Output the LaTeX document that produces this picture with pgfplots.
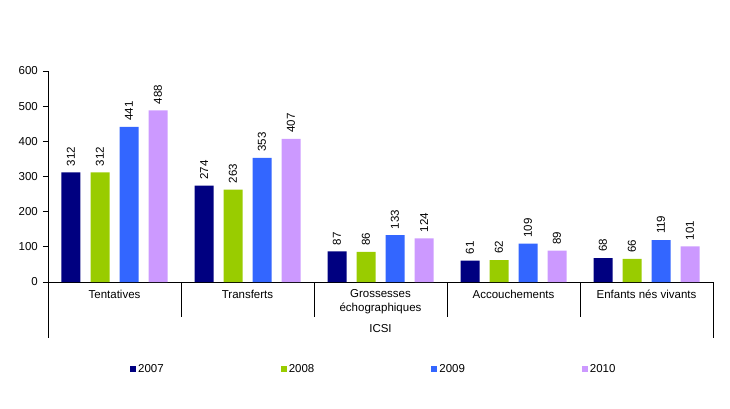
\documentclass[border=0pt]{standalone}
\usepackage{pgfplots}
\pgfplotsset{compat=1.18}
\usepackage{fontspec}
\setmainfont{Liberation Sans}
\definecolor{c2007}{HTML}{000080}
\definecolor{c2008}{HTML}{99CC00}
\definecolor{c2009}{HTML}{3366FF}
\definecolor{c2010}{HTML}{CC99FF}
\newcommand{\chartfont}{\fontsize{11.5bp}{13.5bp}\selectfont}
\begin{document}
\chartfont
\begin{tikzpicture}
\path (0bp,0bp) rectangle (730bp,409bp);
\begin{axis}[
    at={(48bp,127bp)}, anchor=south west,
    scale only axis, width=665bp, height=211bp,
    ybar=10bp, bar width=19bp,
    xmin=-0.5, xmax=4.5, ymin=0, ymax=600,
    ytick={0,100,...,600},
    xtick={0,1,2,3,4},
    xticklabels={Tentatives, Transferts, {Grossesses\\échographiques}, Accouchements, Enfants nés vivants},
    axis x line*=bottom, axis y line*=left,
    axis line style={-, black, line width=0.9bp},
    x tick style={draw=none},
    y tick style={black, line width=0.9bp},
    tick align=outside, major tick length=5bp,
    /pgf/number format/assume math mode=true,
    ticklabel style={font=\chartfont},
    xticklabel style={align=center, inner sep=0pt, yshift=-2.5bp},
    yticklabel style={inner sep=0pt, xshift=-5bp},
    clip=false,
    nodes near coords,
    every node near coord/.append style={rotate=90, anchor=west, inner xsep=6bp, inner ysep=0pt,
        font=\chartfont, black},
    legend columns=4,
    legend style={at={(0.1233,-0.4123)}, anchor=west, draw=none, inner sep=0pt,
        font=\chartfont,
        nodes={inner xsep=2bp, inner ysep=0pt},
        /tikz/every even column/.append style={column sep=115bp}},
    legend image code/.code={\path[#1, draw=none] (0bp,-3bp) rectangle (6bp,3bp);},
]
\addplot[fill=c2007, draw=none] coordinates {(0,312) (1,274) (2,87) (3,61) (4,68)};
\addplot[fill=c2008, draw=none] coordinates {(0,312) (1,263) (2,86) (3,62) (4,66)};
\addplot[fill=c2009, draw=none] coordinates {(0,441) (1,353) (2,133) (3,109) (4,119)};
\addplot[fill=c2010, draw=none] coordinates {(0,488) (1,407) (2,124) (3,89) (4,101)};
\legend{2007,2008,2009,2010}
\draw[line width=0.9bp] (axis cs:-0.5,0) -- ([yshift=-56bp]axis cs:-0.5,0);
\draw[line width=0.9bp] (axis cs:4.5,0) -- ([yshift=-56bp]axis cs:4.5,0);
\draw[line width=0.9bp] (axis cs:0.5,0) -- ([yshift=-35bp]axis cs:0.5,0);
\draw[line width=0.9bp] (axis cs:1.5,0) -- ([yshift=-35bp]axis cs:1.5,0);
\draw[line width=0.9bp] (axis cs:2.5,0) -- ([yshift=-35bp]axis cs:2.5,0);
\draw[line width=0.9bp] (axis cs:3.5,0) -- ([yshift=-35bp]axis cs:3.5,0);
\node[font=\chartfont] at ([yshift=-47bp]axis cs:2,0) {ICSI};
\end{axis}
\end{tikzpicture}
\end{document}
